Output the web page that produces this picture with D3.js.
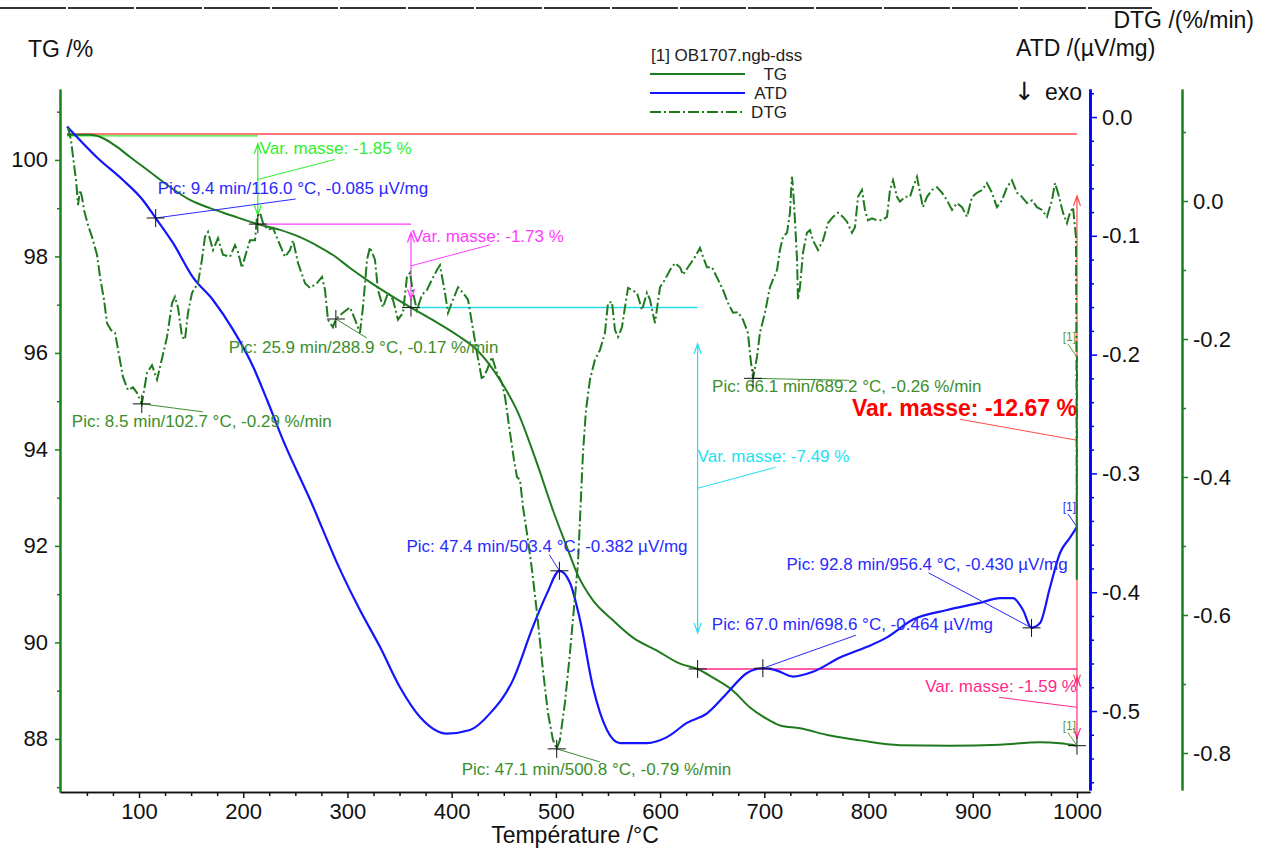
<!DOCTYPE html>
<html><head><meta charset="utf-8">
<script src="https://cdn.jsdelivr.net/npm/d3@7"></script>
<style>body{margin:0;background:#fff}svg{display:block;font-family:"Liberation Sans",Arial,sans-serif}</style>
</head><body><svg id="c" width="1270" height="850"></svg>
<script>
// ---------- DATA ----------
const tgT = [31,53,64.5,78.9,91.4,110.6,129.7,148.9,168.1,187.3,214,235.3,254.5,273.7,286.1,302.5,318.8,338,361,382.1,408,424.3,446.4,462.7,481.9,497.2,510.7,520.3,535.6,554.8,574,597,619.1,636,650.7,669.9,686.3,705.4,715,734.2,763,791.8,830.2,878.2,926.1,964.5,983.7,1000];
const tgV = [100.52,100.52,100.46,100.27,100.06,99.75,99.44,99.17,99.00,98.86,98.67,98.55,98.40,98.19,98.03,97.76,97.51,97.24,96.94,96.68,96.33,96.06,95.44,94.81,93.71,92.74,91.97,91.43,90.87,90.46,90.10,89.83,89.56,89.45,89.27,89.00,88.65,88.38,88.28,88.22,88.07,87.97,87.87,87.86,87.88,87.93,87.91,87.86];

const atdT = [31,59.7,84.6,103.8,116,132.6,151.8,171,190.2,209.4,222.8,238.2,264.1,292.9,312,331.2,350.4,369.6,395.5,417.6,436.8,458.8,478,491.5,503.4,513.5,523.1,535.6,549,561.5,587.4,606.6,625.8,645,664.2,683.4,698.6,712.2,727.5,746.7,772.6,798.5,817.7,842.7,875.3,906.9,926.1,938.6,948.2,956.4,964.5,974.1,983.7,993.3,1000];
const atdV = [-0.008,-0.034,-0.053,-0.070,-0.085,-0.106,-0.135,-0.154,-0.179,-0.210,-0.238,-0.272,-0.322,-0.381,-0.415,-0.446,-0.480,-0.505,-0.519,-0.516,-0.502,-0.474,-0.429,-0.401,-0.382,-0.392,-0.423,-0.480,-0.516,-0.527,-0.527,-0.522,-0.510,-0.502,-0.485,-0.468,-0.464,-0.466,-0.471,-0.467,-0.455,-0.446,-0.438,-0.423,-0.415,-0.409,-0.405,-0.405,-0.415,-0.430,-0.426,-0.396,-0.367,-0.354,-0.345];

const dtgT = [31.9,34.8,36.7,39.6,41.5,43.4,45.3,47.2,51.1,54.9,59.7,62.6,66.4,69.3,73.1,77.0,80.8,84.6,89.4,94.2,98.1,102.7,107.7,112.5,117.3,120.1,124.0,126.9,131.7,134.5,137.4,141.3,144.1,147.0,150.9,156.6,160.4,163.3,166.2,171.0,175.8,180.6,187.3,192.1,195.0,198.8,201.7,206.5,211.3,213.2,216.1,219.0,223.8,228.6,233.4,240.1,244.9,247.8,252.6,259.3,264.1,270.8,275.6,278.5,281.3,286.1,288.9,295.7,302.5,307.3,312.0,314.9,318.8,321.6,326.4,329.3,334.1,338.9,343.7,348.5,353.3,357.1,360.0,362.9,366.7,371.5,376.3,381.1,385.9,388.8,393.6,396.5,401.3,406.1,410.9,415.7,419.5,424.3,429.1,433.9,438.7,443.5,448.3,451.2,456.0,459.8,462.7,465.6,468.4,473.2,477.1,481.9,487.6,492.4,497.2,500.8,503.9,508.7,513.5,518.3,521.2,523.1,526.0,528.9,532.7,537.5,542.3,547.1,550.0,553.8,556.7,559.6,563.4,566.3,569.2,573.0,577.8,582.6,587.4,590.3,595.1,599.9,604.7,609.5,614.3,619.1,622.0,626.8,633.5,638.3,641.2,645.0,649.8,655.6,660.4,665.2,670.0,674.7,679.5,684.3,686.5,689.2,693.0,695.8,700.6,705.4,708.3,712.2,715.0,717.9,721.8,724.6,726.5,727.5,729.4,731.4,732.3,734.2,737.1,740.9,743.8,746.7,751.5,756.3,761.1,765.9,770.7,775.5,779.3,784.1,787.0,789.9,793.7,796.6,799.5,803.3,808.1,812.9,817.7,820.6,823.5,827.3,830.2,835.0,839.8,842.7,846.5,848.4,852.2,856.1,860.9,865.7,870.5,875.3,880.1,884.9,889.7,894.5,899.3,904.1,908.9,913.6,918.4,923.2,928.0,932.8,937.6,942.4,947.2,952.0,956.8,961.6,966.4,971.2,976.0,978.9,981.8,986.6,990.4,993.3,996.2,999.0,999.5,999.8,1000.0];
const dtgV = [0.106,0.088,0.064,0.030,-0.006,0.016,0.006,-0.013,-0.035,-0.052,-0.078,-0.110,-0.143,-0.177,-0.187,-0.191,-0.223,-0.255,-0.274,-0.270,-0.278,-0.294,-0.249,-0.238,-0.259,-0.241,-0.216,-0.197,-0.148,-0.139,-0.154,-0.197,-0.201,-0.162,-0.133,-0.119,-0.085,-0.052,-0.045,-0.071,-0.054,-0.078,-0.081,-0.064,-0.074,-0.097,-0.081,-0.057,-0.057,-0.023,-0.017,-0.032,-0.042,-0.039,-0.057,-0.081,-0.071,-0.057,-0.090,-0.119,-0.126,-0.119,-0.110,-0.129,-0.172,-0.183,-0.171,-0.162,-0.154,-0.172,-0.191,-0.154,-0.085,-0.067,-0.085,-0.129,-0.154,-0.133,-0.143,-0.172,-0.162,-0.110,-0.104,-0.133,-0.158,-0.136,-0.129,-0.114,-0.100,-0.093,-0.133,-0.162,-0.143,-0.125,-0.133,-0.143,-0.177,-0.220,-0.259,-0.245,-0.226,-0.249,-0.264,-0.284,-0.336,-0.375,-0.400,-0.404,-0.443,-0.491,-0.535,-0.597,-0.680,-0.742,-0.781,-0.794,-0.781,-0.727,-0.655,-0.574,-0.525,-0.462,-0.365,-0.303,-0.259,-0.230,-0.216,-0.191,-0.148,-0.146,-0.187,-0.197,-0.183,-0.154,-0.126,-0.129,-0.133,-0.158,-0.133,-0.143,-0.177,-0.125,-0.114,-0.100,-0.090,-0.096,-0.107,-0.096,-0.081,-0.068,-0.081,-0.096,-0.096,-0.114,-0.129,-0.148,-0.162,-0.161,-0.172,-0.191,-0.225,-0.257,-0.226,-0.191,-0.162,-0.125,-0.114,-0.100,-0.071,-0.052,-0.046,-0.017,0.035,0.020,-0.028,-0.085,-0.143,-0.125,-0.075,-0.046,-0.042,-0.057,-0.071,-0.057,-0.032,-0.023,-0.017,-0.023,-0.030,-0.046,-0.038,0.006,0.016,-0.013,-0.028,-0.025,-0.028,-0.028,-0.023,0.016,0.030,0.006,-0.001,0.006,0.006,0.020,0.035,0.020,-0.009,0.006,0.016,0.020,0.012,0.001,-0.013,-0.003,-0.009,-0.023,0.006,0.012,0.016,0.026,0.012,-0.009,0.001,0.020,0.030,0.012,0.006,-0.003,0.001,-0.009,-0.013,-0.023,0.001,0.026,0.012,-0.017,-0.032,-0.017,-0.009,-0.052,-0.230,-0.549,-0.226];

const xTicks = [100,200,300,400,500,600,700,800,900,1000];
const tgTicks = [88,90,92,94,96,98,100];
const atdTicks = [0,-0.1,-0.2,-0.3,-0.4,-0.5];
const dtgTicks = [0,-0.2,-0.4,-0.6,-0.8];

const legendTitle = "[1] OB1707.ngb-dss";
const legendNames = ["TG","ATD","DTG"];

// mass-change steps on TG (temperature, %)
const stepT = [31,214,361,636,1000];
const stepV = [100.52,98.67,96.94,89.45,87.86];
const stepLabels = ["Var. masse: -1.85 %","Var. masse: -1.73 %","Var. masse: -7.49 %","Var. masse: -1.59 %"];
const totalLabel = "Var. masse: -12.67 %";

// peaks
const peakSeries = ["atd","dtg","dtg","atd","dtg","dtg","atd","atd"];
const peakT = [116.0,102.7,288.9,503.4,500.8,689.2,698.6,956.4];
const peakV = [-0.085,-0.294,-0.171,-0.382,-0.794,-0.257,-0.464,-0.430];
const peakText = ["Pic: 9.4 min/116.0 °C, -0.085 µV/mg","Pic: 8.5 min/102.7 °C, -0.29 %/min","Pic: 25.9 min/288.9 °C, -0.17 %/min","Pic: 47.4 min/503.4 °C, -0.382 µV/mg","Pic: 47.1 min/500.8 °C, -0.79 %/min","Pic: 66.1 min/689.2 °C, -0.26 %/min","Pic: 67.0 min/698.6 °C, -0.464 µV/mg","Pic: 92.8 min/956.4 °C, -0.430 µV/mg"];

// ---------- LAYOUT / STYLE ----------
const C = {tg:"#1f7a1f", atd:"#1414ff", dtg:"#1f7a1f", gLab:"#3b8e2b", bLab:"#2a2aff",
  red:"#ff4a4a", lime:"#2ef02e", mag:"#ff3cff", cyan:"#22e0f0", pink:"#ff2a8a", axG:"#1a801a", axB:"#0000ff"};
const svg = d3.select("#c");
const x = d3.scaleLinear().domain([24.2,1012.5]).range([60,1090]);
const yTG = d3.scaleLinear().domain([86.9,101.47]).range([792,89]);
const yATD = d3.scaleLinear().domain([-0.5665,0.0236]).range([790,89]);
const yDTG = d3.scaleLinear().domain([-0.8536,0.1623]).range([790,89]);
const yOf = {tg:yTG, atd:yATD, dtg:yDTG};

// top dashed rule
svg.append("line").attr("x1",0).attr("x2",1152).attr("y1",8).attr("y2",8)
  .attr("stroke","#333").attr("stroke-width",2).attr("stroke-dasharray","66,2");

// ---------- AXES ----------
function style(g, color, fs, w){
  g.select(".domain").attr("stroke",color).attr("stroke-width",w);
  g.selectAll(".tick line").attr("stroke",color).attr("stroke-width",1.5);
  g.selectAll("text").attr("fill","#111").style("font-size",fs+"px").style("font-family",'"Liberation Sans",Arial,sans-serif');
}
const fmt1 = v => d3.format(".1f")(v).replace("\u2212","-");
const xMinor = d3.range(50,1001,25).filter(v=>v%100!==0);
let g = svg.append("g").attr("transform","translate(0,792)")
  .call(d3.axisBottom(x).tickValues(xMinor).tickSize(4).tickSizeOuter(0).tickFormat(""));
style(g,"#111",22,1.5);
g = svg.append("g").attr("transform","translate(0,792)")
  .call(d3.axisBottom(x).tickValues(xTicks).tickSize(6).tickPadding(5).tickSizeOuter(0).tickFormat(d=>String(d)));
style(g,"#111",22,1.5);
g = svg.append("g").attr("transform","translate(60,0)")
  .call(d3.axisLeft(yTG).tickValues(d3.range(87,102,2)).tickSize(3).tickSizeOuter(0).tickFormat(""));
style(g,C.axG,22,2);
g = svg.append("g").attr("transform","translate(60,0)")
  .call(d3.axisLeft(yTG).tickValues(tgTicks).tickSize(5).tickPadding(7).tickSizeOuter(0).tickFormat(d=>String(d)));
style(g,C.axG,22,2);
g = svg.append("g").attr("transform","translate(1090,0)")
  .call(d3.axisRight(yATD).tickValues([0.02,-0.02,-0.04,-0.06,-0.08,-0.12,-0.14,-0.16,-0.18,-0.22,-0.24,-0.26,-0.28,-0.32,-0.34,-0.36,-0.38,-0.42,-0.44,-0.46,-0.48,-0.52,-0.54,-0.56]).tickSize(4).tickSizeOuter(0).tickFormat(""));
style(g,C.axB,22,2.5);
g = svg.append("g").attr("transform","translate(1090,0)")
  .call(d3.axisRight(yATD).tickValues(atdTicks).tickSize(7).tickPadding(5).tickSizeOuter(0).tickFormat(fmt1));
style(g,C.axB,22,2.5);
g = svg.append("g").attr("transform","translate(1182,0)")
  .call(d3.axisRight(yDTG).tickValues([0.1,-0.1,-0.3,-0.5,-0.7]).tickSize(4).tickSizeOuter(0).tickFormat(""));
style(g,C.axG,22,2);
g = svg.append("g").attr("transform","translate(1182,0)")
  .call(d3.axisRight(yDTG).tickValues(dtgTicks).tickSize(6).tickPadding(5).tickSizeOuter(0).tickFormat(fmt1));
style(g,C.axG,22,2);

// titles
const T = (t,xx,yy,opt={})=>svg.append("text").attr("x",xx).attr("y",yy).text(t)
  .attr("fill",opt.fill||"#111").style("font-size",(opt.fs||23)+"px")
  .attr("text-anchor",opt.anchor||"start").style("font-weight",opt.bold?"bold":"normal")
  .style("font-family",opt.ff||null);
T("TG /%",28,57);
T("DTG /(%/min)",1254,28,{anchor:"end"});
T("ATD /(µV/mg)",1016,56);
T("↓",1014,100,{fs:25,ff:'"DejaVu Sans",sans-serif'});
T("exo",1045,100);
T("Température /°C",575,843,{anchor:"middle"});

// legend
T(legendTitle,651,61,{fs:17,fill:"#222"});
const legC = [C.tg, C.atd, C.dtg], legDash = [null,null,"11,3,2,3"], legY=[74,93,112];
legendNames.forEach((n,i)=>{
  svg.append("line").attr("x1",650).attr("x2",745).attr("y1",legY[i]).attr("y2",legY[i])
    .attr("stroke",legC[i]).attr("stroke-width",1.8).attr("stroke-dasharray",legDash[i]);
  T(n,787,legY[i]+6,{fs:17,anchor:"end",fill:"#222"});
});

// ---------- MASS CHANGE ANNOTATIONS ----------
function arrowV(xx,y1,y2,color){
  const len=y2-y1, a=y1+0.1*len, b=y2-0.1*len;
  svg.append("path").attr("d",`M${xx},${a}V${b}M${xx-3.5},${a+10}L${xx},${a}L${xx+3.5},${a+10}M${xx-3.5},${b-10}L${xx},${b}L${xx+3.5},${b-10}`)
    .attr("fill","none").attr("stroke",color).attr("stroke-width",1.2);
}
const sx = stepT.map(t=>x(t)), sy = stepV.map(v=>yTG(v));
svg.append("line").attr("x1",sx[0]).attr("x2",sx[4]).attr("y1",sy[0]-0.8).attr("y2",sy[0]-0.8).attr("stroke",C.red).attr("stroke-width",1.4);
svg.append("line").attr("x1",sx[0]).attr("x2",sx[1]).attr("y1",sy[0]+1).attr("y2",sy[0]+1).attr("stroke",C.lime).attr("stroke-width",1.4);
arrowV(sx[4],sy[0],sy[4],C.red);
const stepColors=[C.lime,C.mag,C.cyan,C.pink];
for(let i=1;i<4;i++){
  svg.append("line").attr("x1",sx[i]).attr("x2",i===3?sx[4]:sx[i+1]).attr("y1",sy[i]).attr("y2",sy[i]).attr("stroke",stepColors[i]).attr("stroke-width",1.4);
}
const stepLay = [
  {ax:1, lx:2, ly:-25, ex:77, ey:-20, anchor:"start"},
  {ax:2, lx:1, ly:-24, ex:79, ey:-21, anchor:"start"},
  {ax:3, lx:0, ly:-26, ex:78, ey:-21, anchor:"start"},
  {ax:4, lx:0, ly:-15, ex:-78, ey:-10, anchor:"end"}];
stepLabels.forEach((lab,i)=>{
  const L=stepLay[i], xx=sx[L.ax], mid=(sy[i]+sy[i+1])/2;
  arrowV(xx,sy[i],sy[i+1],stepColors[i]);
  svg.append("line").attr("x1",xx).attr("y1",mid).attr("x2",xx+L.ex).attr("y2",mid+L.ey).attr("stroke",stepColors[i]).attr("stroke-width",1);
  T(lab,xx+L.lx,mid+L.ly,{fs:17,fill:stepColors[i],anchor:L.anchor});
});
{ const mid=(sy[0]+sy[4])/2;
  svg.append("line").attr("x1",sx[4]).attr("y1",mid).attr("x2",sx[4]-117).attr("y2",mid-21).attr("stroke",C.red).attr("stroke-width",1);
  T(totalLabel,sx[4],mid-24,{fs:23,fill:"#ff0000",anchor:"end",bold:true}); }

// ---------- CURVES ----------
const zip=(a,b)=>a.map((t,i)=>[t,b[i]]);
svg.append("path").datum(zip(tgT,tgV)).attr("fill","none").attr("stroke",C.tg).attr("stroke-width",2)
  .attr("d",d3.line().x(d=>x(d[0])).y(d=>yTG(d[1])).curve(d3.curveMonotoneX));
svg.append("path").datum(zip(atdT,atdV)).attr("fill","none").attr("stroke",C.atd).attr("stroke-width",2.2)
  .attr("d",d3.line().x(d=>x(d[0])).y(d=>yATD(d[1])).curve(d3.curveMonotoneX));
svg.append("path").datum(zip(dtgT,dtgV)).attr("fill","none").attr("stroke",C.dtg).attr("stroke-width",2)
  .attr("stroke-dasharray","11,3,2,3")
  .attr("d",d3.line().x(d=>x(d[0])).y(d=>yDTG(d[1])));

// ---------- PEAKS ----------
const peakLay = [[2,-24,140,-19],[-70,23,61,8],[-107,34,31,19],[-153,-19,-10,-16],[-95,26,43,13],[-41,14,96,2],[-51,-38,93,-33],[-245,-58,-103,-55]];
function cross(xx,yy){svg.append("path").attr("d",`M${xx-9},${yy}H${xx+9}M${xx},${yy-9}V${yy+9}`).attr("stroke","#111").attr("stroke-width",1);}
peakT.forEach((t,i)=>{
  const px=x(t), py=yOf[peakSeries[i]](peakV[i]), L=peakLay[i];
  const col = peakSeries[i]==="atd"?C.bLab:C.gLab;
  svg.append("line").attr("x1",px).attr("y1",py).attr("x2",px+L[2]).attr("y2",py+L[3]).attr("stroke",col).attr("stroke-width",1);
  T(peakText[i],px+L[0],py+L[1],{fs:17,fill:col});
  cross(px,py);
});
for(let i=1;i<5;i++) cross(sx[i],sy[i]);

// end markers [1]
const ends = [["atd",atdV[atdV.length-1],C.bLab],["dtg",dtgV[dtgV.length-1],"#5a9a3a"],["tg",tgV[tgV.length-1],"#5a9a3a"]];
ends.forEach(e=>{
  const px=x(1000), py=yOf[e[0]](e[1]);
  svg.append("line").attr("x1",px).attr("y1",py).attr("x2",px-9).attr("y2",py-13).attr("stroke",e[2]).attr("stroke-width",1);
  T("[1]",px-1,py-16,{fs:12,fill:e[2],anchor:"end"});
});
</script></body></html>
